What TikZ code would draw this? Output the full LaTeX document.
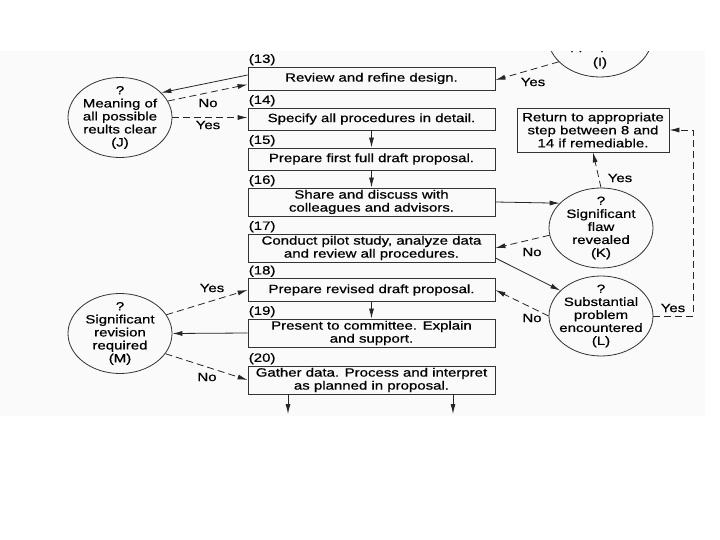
\documentclass[tikz,border=0pt]{standalone}
\usepackage{fontspec}
\setmainfont{Liberation Sans}[FakeStretch=1.25,FakeBold=0.6]
\usetikzlibrary{arrows.meta,shapes.geometric}

\begin{document}
\begin{tikzpicture}[x=1pt,y=-1pt,
        font=\fontsize{12}{13}\selectfont,
        stepbox/.style={draw=black!80,line width=0.8pt,minimum width=247pt,minimum height=23pt,align=center,inner sep=2pt},
        numlabel/.style={anchor=south west,inner sep=1pt},
        query/.style={draw=black!80,line width=0.8pt,ellipse,minimum width=104pt,minimum height=80pt,inner sep=0pt},
        querytext/.style={align=center,inner sep=0pt},
        flow/.style={draw=black!85,line width=0.8pt,-{Latex[length=10pt,width=5pt]}},
        maybe/.style={flow,dash pattern=on 7pt off 4pt},
        answer/.style={inner sep=1pt}]
        \useasboundingbox (0,0) rectangle (720,540);
        \fill[black!2] (0,50) rectangle (705,416);

        % main steps
        \node[stepbox] (b13) at (371.5,78.5) {Review and refine design.};
        \node[stepbox,minimum height=22pt] (b14) at (371.5,119) {Specify all procedures in detail.};
        \node[stepbox,minimum height=22pt] (b15) at (371.5,159) {Prepare first full draft proposal.};
        \node[stepbox] (b16) at (371.5,202) {Share and discuss with\\colleagues and advisors.};
        \node[stepbox] (b17) at (371.5,248) {Conduct pilot study, analyze data\\and review all procedures.};
        \node[stepbox] (b18) at (371.5,290) {Prepare revised draft proposal.};
        \node[stepbox] (b19) at (371.5,333) {Present to committee. Explain\\and support.};
        \node[stepbox] (b20) at (371.5,380) {Gather data. Process and interpret\\as planned in proposal.};
        \node[numlabel] (l13) at (b13.north west) {(13)};
        \node[numlabel] (l14) at (b14.north west) {(14)};
        \node[numlabel] (l15) at (b15.north west) {(15)};
        \node[numlabel] (l16) at (b16.north west) {(16)};
        \node[numlabel] (l17) at (b17.north west) {(17)};
        \node[numlabel] (l18) at (b18.north west) {(18)};
        \node[numlabel] (l19) at (b19.north west) {(19)};
        \node[numlabel] (l20) at (b20.north west) {(20)};
        \node[draw=black!80,line width=0.8pt,minimum width=152pt,minimum height=44pt,align=center,inner sep=2pt] (ret) at (593,130) {Return to appropriate\\step between 8 and\\14 if remediable.};

        % decisions
        \node[query] (J) at (120,117.5) {};
        \node[querytext] (Jt) at (J) {?\\Meaning of\\all possible\\reults clear\\(J)};
        \node[query] (K) at (601,228) {};
        \node[querytext] (Kt) at (K) {?\\Significant\\flaw\\revealed\\(K)};
        \node[query] (L) at (601,316) {};
        \node[querytext] (Lt) at (L) {?\\Substantial\\problem\\encountered\\(L)};
        \node[query] (M) at (120,333.5) {};
        \node[querytext] (Mt) at (M) {?\\Significant\\revision\\required\\(M)};
        \node[query] (I) at (600,37) {};
        \node[querytext] (Iapp) at (600,46.5) {appropriate};
        \node[querytext] (It) at (600,63) {(I)};
        \node[answer] (noI) at (528,46) {No};
        % page edge cuts off the top
        \fill[white] (0,0) rectangle (720,51);

        % connectors
        \draw[flow] (b14) -- (b15);
        \draw[flow] (b15) -- (b16);
        \draw[flow] (b18) -- (b19);
        \coordinate (out1) at (288,414);
        \coordinate (out2) at (453,414);
        \draw[flow] (b20.south -| out1) -- (out1);
        \draw[flow] (b20.south -| out2) -- (out2);

        \draw[flow] ([yshift=3.5pt]b13.west) -- (J.31);
        \draw[maybe] (J.19) -- ([yshift=-6pt]b13.west);
        \draw[maybe] (J.east) -- (J.east -| b14.west);
        \draw[maybe] (I.211) -- ([yshift=-1.5pt]b13.east);
        \draw[flow] (b16.east) -- (K.149);
        \draw[maybe] (K.188) -- (b17.east);
        \draw[maybe] (K.north) -- (ret.south);
        \draw[flow] ([yshift=-10pt]b17.east) -- (L.148);
        \draw[maybe] (L.west) -- (b18.east);
        \draw[maybe] (L.east) -- ++(40,0) |- (ret.east);
        \draw[flow] (b19.west) -- (M.east);
        \draw[maybe] (M.22) -- (b18.west);
        \draw[maybe] (M.-24) -- (b20.west);

        \node[answer] (noJ) at (208,103) {No};
        \node[answer] (yesJ) at (208,125) {Yes};
        \node[answer] (yesI) at (533,82) {Yes};
        \node[answer] (yesK) at (620,178) {Yes};
        \node[answer] (noK) at (532,252) {No};
        \node[answer] (noL) at (532,318) {No};
        \node[answer] (yesL) at (673,308) {Yes};
        \node[answer] (yesM) at (212,288) {Yes};
        \node[answer] (noM) at (207,377) {No};
    \end{tikzpicture}
\end{document}
